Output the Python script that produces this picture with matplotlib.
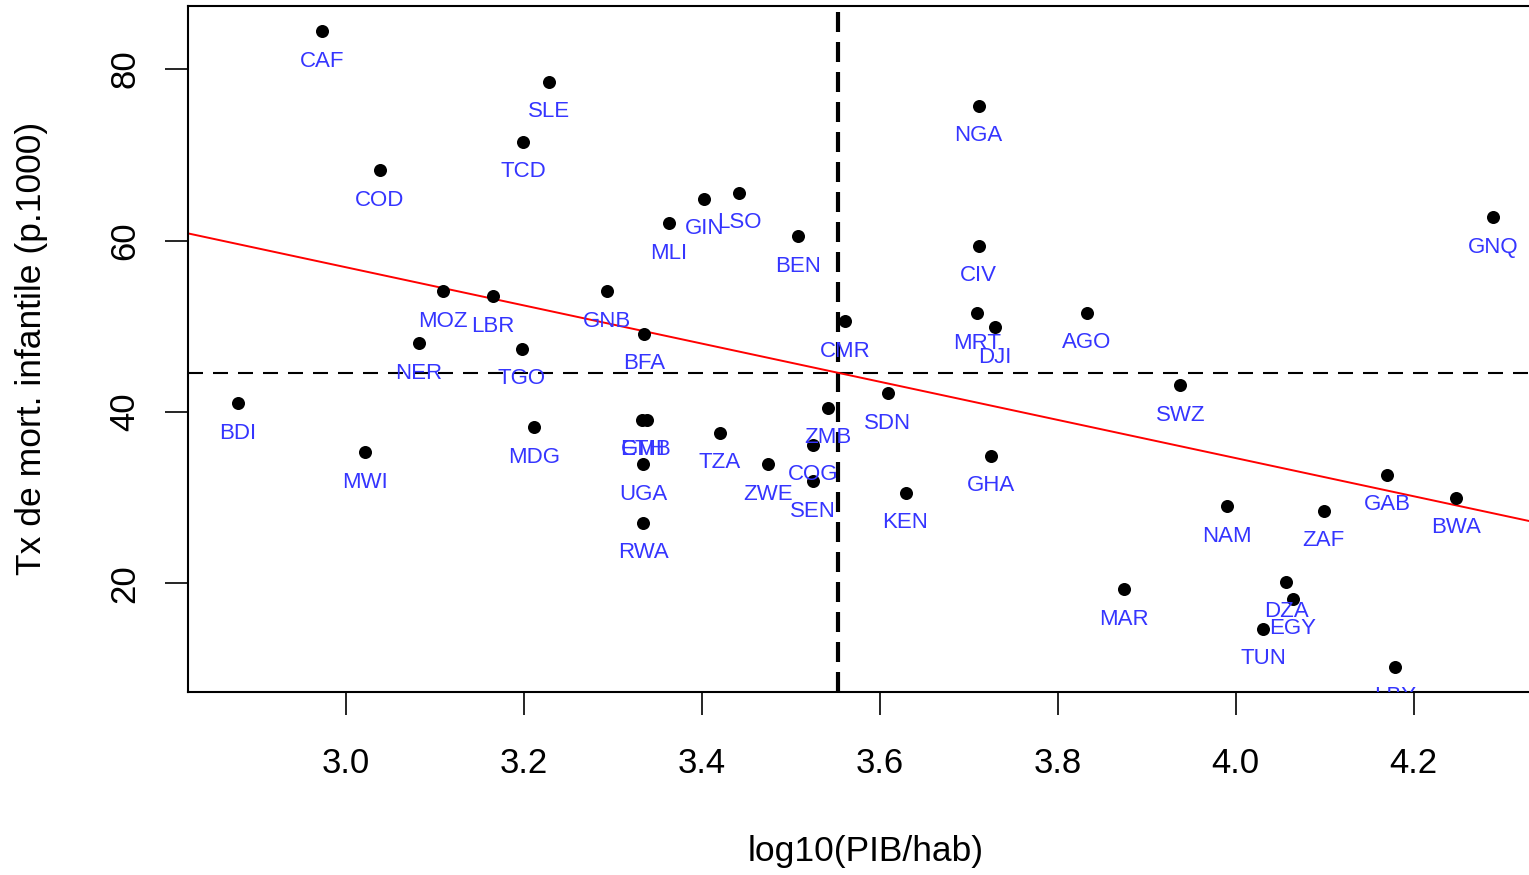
import numpy as np
import matplotlib
matplotlib.use("Agg")
import matplotlib.pyplot as plt

plt.rcParams['font.family'] = ['Liberation Sans', 'DejaVu Sans']

# ---- data ----
codes = ["CAF", "SLE", "TCD", "COD", "NGA", "GNQ", "GIN", "LSO", "MLI", "BEN",
         "CIV", "MOZ", "LBR", "GNB", "MRT", "DJI", "AGO", "CMR", "BFA", "NER",
         "TGO", "SWZ", "SDN", "ZMB", "COG", "SEN", "BDI", "MDG", "ETH", "GMB",
         "UGA", "TZA", "ZWE", "MWI", "RWA", "KEN", "GHA", "NAM", "ZAF", "GAB",
         "BWA", "MAR", "DZA", "EGY", "TUN", "LBY"]
log_gdp = [2.973, 3.228, 3.199, 3.038, 3.711, 4.289, 3.403, 3.442, 3.363, 3.508,
           3.711, 3.109, 3.165, 3.294, 3.709, 3.729, 3.833, 3.561, 3.335, 3.082,
           3.198, 3.938, 3.609, 3.542, 3.525, 3.525, 2.879, 3.212, 3.333, 3.338,
           3.334, 3.420, 3.474, 3.022, 3.334, 3.629, 3.725, 3.990, 4.099, 4.170,
           4.248, 3.874, 4.057, 4.064, 4.031, 4.179]
infant_mort = [84.4, 78.5, 71.5, 68.2, 75.7, 62.7, 64.9, 65.6, 62.0, 60.5,
               59.4, 54.1, 53.5, 54.1, 51.5, 49.9, 51.6, 50.6, 49.1, 48.0,
               47.4, 43.1, 42.2, 40.5, 36.2, 31.9, 41.0, 38.2, 39.1, 39.1,
               33.9, 37.6, 33.9, 35.3, 27.1, 30.6, 34.9, 29.0, 28.5, 32.7,
               30.0, 19.3, 20.2, 18.2, 14.7, 10.3]
x_ticks = [3.0, 3.2, 3.4, 3.6, 3.8, 4.0, 4.2]
y_ticks = [20, 40, 60, 80]

x = np.array(log_gdp)
y = np.array(infant_mort)

W, H = 1529, 875
fig = plt.figure(figsize=(W / 100, H / 100), dpi=100)
fig.patch.set_facecolor('white')

# plot region (right edge of box lies just beyond the picture)
left_px, right_px, top_px, bot_px = 188, 1543, 6, 692
ax = fig.add_axes([left_px / W, 1 - bot_px / H,
                   (right_px - left_px) / W, (bot_px - top_px) / H])

# R-style axis ranges (data range +/- 4%)
xr = x.max() - x.min()
yr = y.max() - y.min()
ax.set_xlim(x.min() - 0.04 * xr, x.max() + 0.04 * xr)
ax.set_ylim(y.min() - 0.04 * yr, y.max() + 0.04 * yr)

# points
ax.scatter(x, y, s=88, color='black', zorder=3, linewidths=0)

# labels below points
for c, xi, yi in zip(codes, x, y):
    ax.annotate(c, (xi, yi), xytext=(0, -21.5), textcoords='offset points',
                ha='center', va='center', fontsize=16, color='#3535ff',
                annotation_clip=False, clip_on=True, zorder=4)

# mean lines
ax.axhline(y.mean(), color='black', lw=1.5, linestyle=(0, (7.2, 4.8)), zorder=2)
ax.axvline(x.mean(), color='black', lw=3.0, linestyle=(0, (4.8, 2.4)), zorder=2)

# regression line
b1, b0 = np.polyfit(x, y, 1)
xs = np.array(ax.get_xlim())
ax.plot(xs, b0 + b1 * xs, color='red', lw=1.4, zorder=2.5)

# axes styling
for sp in ax.spines.values():
    sp.set_linewidth(1.5)
ax.set_xticks(x_ticks)
ax.set_xticklabels([f"{v:.1f}" for v in x_ticks])
ax.set_yticks(y_ticks)
ax.set_yticklabels([str(v) for v in y_ticks])
ax.tick_params(axis='both', direction='out', length=16.5, width=1.2,
               labelsize=25, color='black')
ax.tick_params(axis='x', pad=23)
ax.tick_params(axis='y', pad=17)
for lab in ax.get_yticklabels():
    lab.set_rotation(90)
    lab.set_va('center')

fig.text(865.5 / W, 1 - 852 / H, "log10(PIB/hab)", ha='center', va='center',
         fontsize=25.5)
fig.text(32 / W, 1 - 348.5 / H, "Tx de mort. infantile (p.1000)", ha='center',
         va='center', rotation=90, fontsize=25.5)

fig.savefig("out.png", dpi=100, facecolor='white')
